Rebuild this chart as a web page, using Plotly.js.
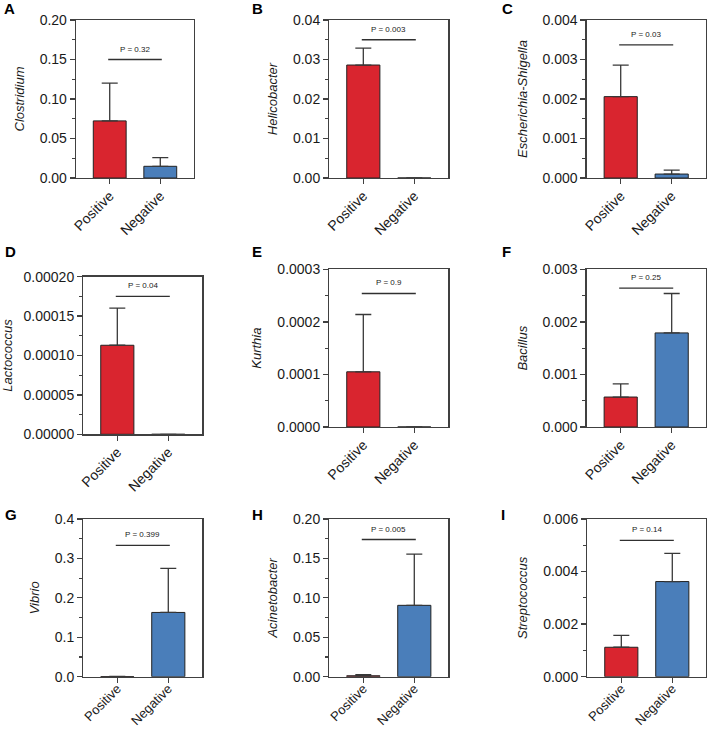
<!DOCTYPE html>
<html><head><meta charset="utf-8">
<script src="https://cdn.plot.ly/plotly-3.0.1.min.js"></script>
<style>html,body{margin:0;padding:0;background:#fff}</style>
</head><body><div id="chart" style="width:707px;height:732px"></div>
<script>
const groups = ['Positive', 'Negative'];
const panelLetters = ['A','B','C','D','E','F','G','H','I'];
const genera = ['Clostridium','Helicobacter','Escherichia-Shigella','Lactococcus','Kurthia','Bacillus','Vibrio','Acinetobacter','Streptococcus'];
const positiveMean = [0.0723, 0.0286, 0.00206, 0.000113, 0.000105, 0.00057, 0.0003, 0.0012, 0.00112];
const positiveErr  = [0.0477, 0.0043, 0.0008, 0.000047, 0.000109, 0.00025, 0.0004, 0.0013, 0.00045];
const negativeMean = [0.0148, 0, 0.0001, 0, 0, 0.00179, 0.163, 0.0905, 0.00362];
const negativeErr  = [0.011, 0, 0.0001, 0, 0, 0.00075, 0.112, 0.065, 0.00107];
const pLabels = ['P = 0.32','P = 0.003','P = 0.03','P = 0.04','P = 0.9','P = 0.25','P = 0.399','P = 0.005','P = 0.14'];
const pBarY = [0.150, 0.035, 0.00337, 0.000175, 0.000254, 0.00264, 0.333, 0.174, 0.00519];
const yMax  = [0.20, 0.04, 0.004, 0.0002, 0.0003, 0.003, 0.4, 0.20, 0.006];
const yStep = [0.05, 0.01, 0.001, 0.00005, 0.0001, 0.001, 0.1, 0.05, 0.002];
const yFormat = ['.2f','.2f','.3f','.5f','.4f','.3f','.1f','.2f','.3f'];

// layout geometry (pixels): [left, right, top, bottom]
const W = 707, H = 732;
const boxes = [
  [76, 194, 20, 178], [329.3, 448.3, 20, 178], [586.7, 705.7, 20, 178],
  [83.3, 202.3, 276.7, 434.3], [329.3, 448.3, 269.3, 427], [586.7, 705.7, 269.3, 427],
  [83.3, 202.3, 519, 676.7], [329.3, 448.3, 519, 676.7], [587.3, 706.3, 519, 676.7]
];
const letterPos = [[9.7,8.3],[257.5,8.3],[507.5,8.3],[10.3,251.5],[256.7,251.7],[506.7,251.7],[11.3,514.2],[257.5,514],[503.3,514]];

const FONT = 'Liberation Sans, Arial, Helvetica, sans-serif';
const RED = '#d9252f', BLUE = '#4a7eba', AX = '#404040';
const data = [], shapes = [], annotations = [];
const layout = {
  width: W, height: H, margin: {l:0, r:0, t:0, b:0},
  paper_bgcolor: '#fff', plot_bgcolor: '#fff', showlegend: false,
  font: {family: FONT, color: '#1a1a1a'}
};

for (let i = 0; i < 9; i++) {
  const s = i === 0 ? '' : String(i + 1);
  const xa = 'x' + s, ya = 'y' + s;
  const [l, r, t, b] = boxes[i];
  const bottomRow = i >= 6;
  data.push({
    type: 'bar', x: groups, y: [positiveMean[i], negativeMean[i]],
    xaxis: xa, yaxis: ya, width: 0.65,
    marker: {color: [RED, BLUE], line: {color: '#222', width: 1}},
    error_y: {type: 'data', symmetric: false, array: [positiveErr[i], negativeErr[i]], arrayminus: [0, 0],
              color: '#383838', thickness: 1.3, width: 8},
    hoverinfo: 'x+y'
  });
  layout['xaxis' + s] = {
    domain: [l / W, r / W], anchor: ya, type: 'category', categoryarray: groups,
    range: [-0.667, 1.667], showline: true, linecolor: AX, linewidth: 1.3, mirror: true,
    ticks: 'outside', ticklen: 5, tickwidth: 1.3, tickcolor: AX, tickangle: -45,
    ticklabelstandoff: bottomRow ? -7 : -2,
    tickfont: {family: FONT, size: bottomRow ? 13 : 14, color: '#1a1a1a'}, showgrid: false, zeroline: false, fixedrange: true
  };
  layout['yaxis' + s] = {
    domain: [1 - b / H, 1 - t / H], anchor: xa, range: [0, yMax[i]], tick0: 0, dtick: yStep[i],
    tickformat: yFormat[i], showline: true, linecolor: AX, linewidth: 1.3, mirror: true,
    ticks: 'outside', ticklen: 5, tickwidth: 1.3, tickcolor: AX,
    minor: {ticks: 'outside', ticklen: 3, tickwidth: 1.2, tickcolor: AX, dtick: yStep[i] / 2, showgrid: false},
    tickfont: {family: FONT, size: 14, color: '#1a1a1a'}, showgrid: false, zeroline: false, fixedrange: true,
    title: {text: genera[i], font: {family: FONT, size: 13, style: 'italic', color: '#1a1a1a'}, standoff: 12}
  };
  shapes.push({type: 'line', xref: xa, yref: ya, x0: -0.03, x1: 1.03, y0: pBarY[i], y1: pBarY[i],
               line: {color: '#303030', width: 1.3}});
  annotations.push({xref: xa, yref: ya, x: 0.5, y: pBarY[i], yanchor: 'bottom', yshift: 4,
                    text: pLabels[i], showarrow: false, font: {family: FONT, size: 8, color: '#1a1a1a'}});
  annotations.push({xref: 'paper', yref: 'paper', x: letterPos[i][0] / W, y: 1 - letterPos[i][1] / H,
                    xanchor: 'center', yanchor: 'middle', text: '<b>' + panelLetters[i] + '</b>',
                    showarrow: false, font: {family: FONT, size: 15, color: '#000'}});
}
layout.shapes = shapes;
layout.annotations = annotations;
Plotly.newPlot('chart', data, layout, {displayModeBar: false, staticPlot: true});
</script></body></html>
